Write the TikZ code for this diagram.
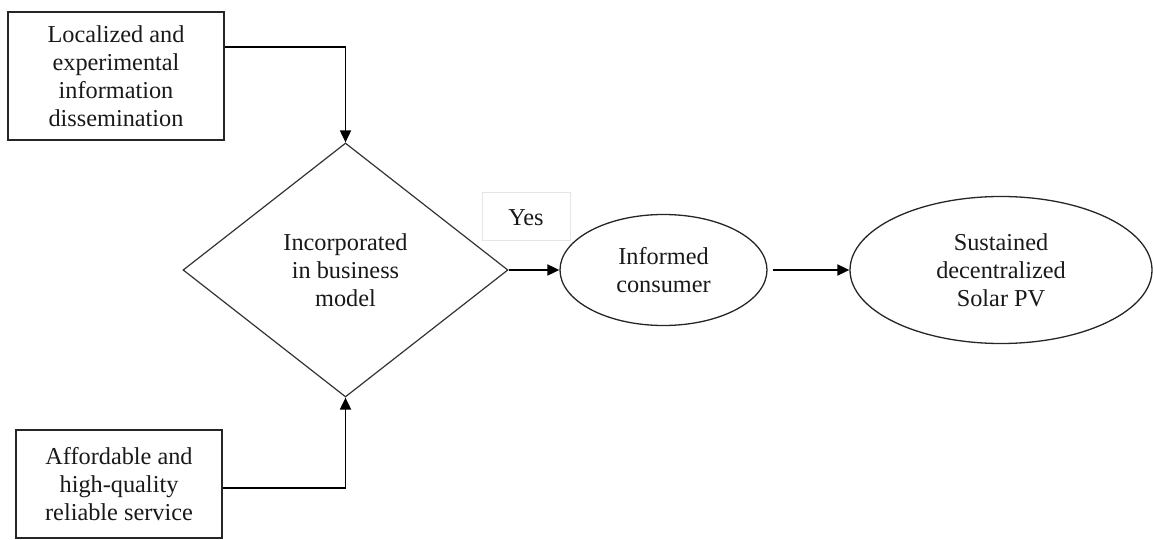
\documentclass[tikz,border=0pt]{standalone}
\usepackage{fontspec}
\setmainfont{Liberation Serif}
\usetikzlibrary{shapes.geometric,arrows.meta}
\begin{document}
\begin{tikzpicture}[x=1pt,y=-1pt,
  txt/.style={font=\fontsize{24.3}{28}\selectfont, text=black!90, align=center},
  boxnode/.style={txt, draw=black!85, line width=1.3pt, rectangle, inner sep=0pt},
  decision/.style={txt, draw=black!80, line width=1.2pt, diamond, inner sep=0pt},
  oval/.style={txt, draw=black!85, line width=1.3pt, ellipse, inner sep=0pt},
  arr/.style={draw=black, line width=1.8pt, -{Triangle[length=12pt,width=11pt]}}]
\useasboundingbox (0,0) rectangle (1153,540);
\node[boxnode, minimum width=216pt, minimum height=128pt] (top) at (116,76)
  {Localized and\\experimental\\information\\dissemination};
\node[boxnode, minimum width=206pt, minimum height=108pt] (bot) at (119,484)
  {Affordable and\\high-quality\\reliable service};
\node[decision, minimum width=325pt, minimum height=254pt] (dia) at (345.5,270)
  {Incorporated\\in business\\model};
\node[oval, minimum width=207pt, minimum height=111pt] (inf) at (663.5,270)
  {Informed\\consumer};
\node[oval, minimum width=302pt, minimum height=147pt] (sus) at (1001,270)
  {Sustained\\decentralized\\Solar PV};
\node[txt, draw=black!10, line width=0.6pt, minimum width=88pt, minimum height=48pt] (yes) at (526,216) {};
\node[txt] (yeslbl) at (526,218) {Yes};
\draw[arr] ([yshift=-36pt]top.north east) -| (dia.north);
\draw[arr] ([yshift=-4pt]bot.east) -| (dia.south);
\draw[arr] (dia.east) -- (inf.west);
\draw[arr, shorten <=5pt] (inf.east) -- (sus.west);
\end{tikzpicture}
\end{document}
